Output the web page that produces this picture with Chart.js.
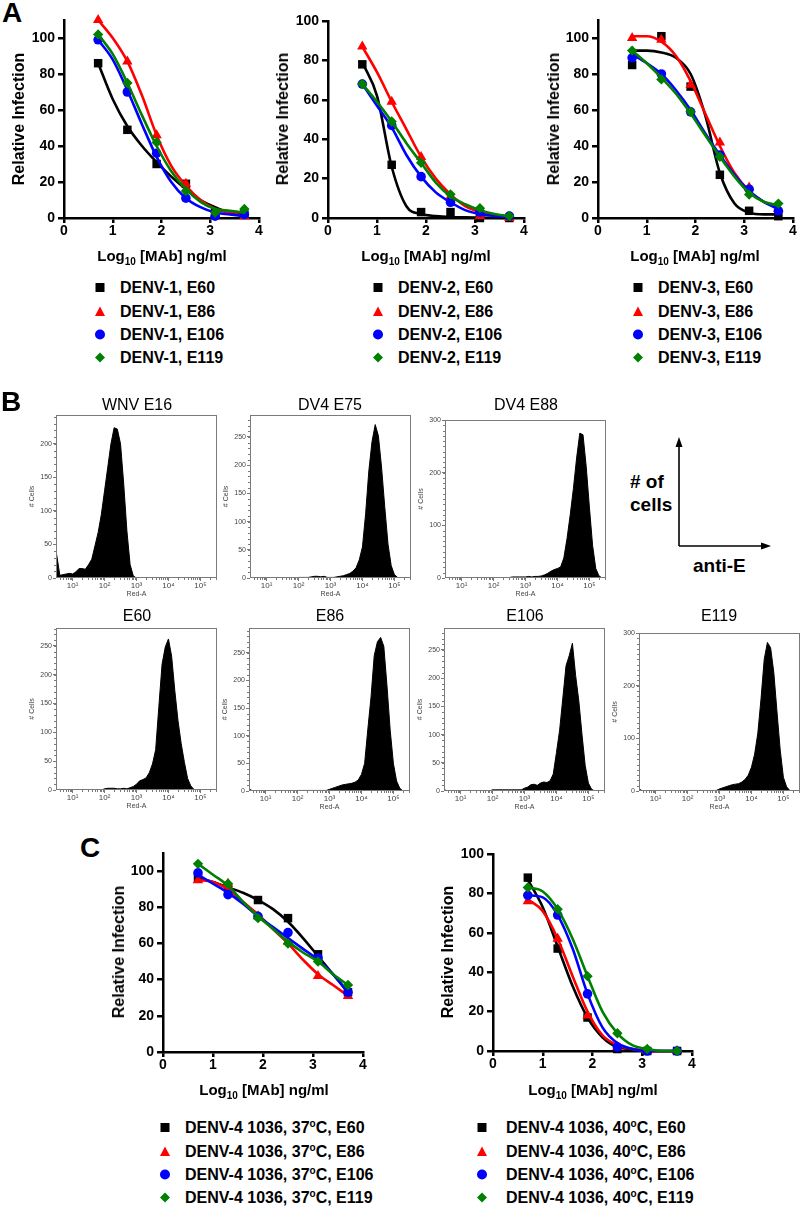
<!DOCTYPE html>
<html>
<head>
<meta charset="utf-8">
<script src="https://cdn.jsdelivr.net/npm/chart.js@4.4.0/dist/chart.umd.min.js"></script>
<style>
  body { margin: 0; width: 800px; height: 1208px; position: relative; overflow: hidden; background: #fff;
         font-family: "Liberation Sans", Arial, Helvetica, sans-serif; }
  canvas { position: absolute; }
  .lbl { position: absolute; white-space: nowrap; color: #000; line-height: 1; }
  .lbl sup { font-size: 10px; position: relative; top: -6px; vertical-align: baseline; }
  .lbl sub { font-size: 10px; position: relative; top: 4px; vertical-align: baseline; }
</style>
</head>
<body>
<script>
const FONT = '"Liberation Sans", Arial, Helvetica, sans-serif';

// --- dose response data (x = log10 ng/ml) ---
const doses = [0.7, 1.3, 1.9, 2.5, 3.1, 3.7];
const fitX = [0.7, 1.0, 1.3, 1.6, 1.9, 2.2, 2.5, 2.8, 3.1, 3.4, 3.7];
const antibodies = ["E60", "E86", "E106", "E119"];
const doseXTicks = [0, 1, 2, 3, 4];
const doseYTicks = [0, 20, 40, 60, 80, 100];

// rows follow antibodies order: E60, E86, E106, E119
const denv1Points = [
  [86, 49, 30, 19, 3, 2],
  [110, 87, 46, 19, 2, 1],
  [99, 70, 36, 11, 1, 2],
  [102, 75, 42, 15, 3, 5],
];
const denv1Fit = [
  [86, 66, 51, 40, 31, 23, 16, 10, 6, 3, 2],
  [110, 100, 87, 68, 46, 29, 18, 10, 5, 3, 1],
  [99, 88, 71, 52, 34, 20, 11, 6, 3, 2, 1],
  [102, 91, 75, 57, 40, 26, 16, 9, 5, 4, 3],
];
const denv2Points = [
  [78, 27, 3, 3, 0, 0],
  [87, 59, 31, 11, 1, 0],
  [68, 47, 21, 8, 3, 1],
  [68, 49, 28, 12, 5, 1],
];
const denv2Fit = [
  [79, 62, 26, 6, 2, 1, 0.5, 0.3, 0.2, 0.1, 0],
  [87, 74, 59, 45, 31, 20, 12, 6, 3, 1.5, 0.5],
  [68, 57, 46, 32, 21, 13, 8, 4, 2, 1, 0.5],
  [68, 59, 49, 38, 28, 18, 11, 7, 4, 2, 1],
];
const denv3Points = [
  [85, 101, 73, 24, 4, 1],
  [100, 99, 74, 42, 17, 5],
  [89, 80, 59, 35, 16, 4],
  [93, 77, 59, 34, 13, 8],
];
const denv3Fit = [
  [93, 93, 92, 89, 80, 57, 25, 8, 3, 2, 2],
  [101, 101, 98, 90, 76, 58, 40, 25, 15, 9, 6],
  [91, 86, 80, 71, 60, 47, 35, 24, 15, 9, 5],
  [93, 86, 78, 69, 58, 46, 34, 23, 14, 9, 7],
];
const denv4at37Points = [
  [96, 91, 84, 74, 54, 33],
  [95, 93, 75, 61, 42, 31],
  [99, 87, 75, 66, 52, 33],
  [104, 93, 74, 60, 50, 37],
];
const denv4at37Fit = [
  [96, 94, 91, 88, 84, 79, 72, 63, 53, 43, 33],
  [95, 94, 90, 83, 76, 68, 60, 51, 43, 37, 31],
  [98, 93, 88, 82, 75, 69, 63, 57, 51, 43, 33],
  [104, 98, 92, 83, 75, 68, 61, 55, 50, 43, 37],
];
const denv4at40Points = [
  [88, 52, 17, 1, 0, 0],
  [76, 57, 18, 2, 0, 0],
  [79, 69, 29, 2, 0, 0],
  [83, 72, 38, 9, 1, 0],
];
const denv4at40Fit = [
  [87, 73, 53, 33, 17, 7, 2, 1, 0, 0, 0],
  [77, 71, 57, 38, 20, 8, 3, 1, 0, 0, 0],
  [79, 78, 69, 52, 29, 12, 4, 1, 0, 0, 0],
  [83, 81, 72, 57, 38, 20, 9, 3, 1, 0, 0],
];

// --- flow cytometry histograms (x = log10 Red-A, y = # cells) ---
const histBins = [0.5, 0.6, 0.7, 0.8, 0.9, 1.0, 1.1, 1.2, 1.3, 1.4, 1.5, 1.6, 1.7, 1.8, 1.9, 2.0, 2.1, 2.2, 2.3, 2.4,
  2.5, 2.6, 2.7, 2.8, 2.9, 3.0, 3.1, 3.2, 3.3, 3.4, 3.5, 3.6, 3.7, 3.8, 3.9, 4.0, 4.1, 4.2, 4.3, 4.4, 4.5, 4.6, 4.7,
  4.8, 4.9, 5.0, 5.1, 5.2, 5.3, 5.4, 5.5];
const histXTicks = [1, 2, 3, 4, 5];
const histWnvE16 = [35, 4, 5, 6, 7, 6, 9, 14, 14, 13, 20, 28, 48, 68, 95, 130, 165, 200, 224, 222,
  200, 140, 70, 20, 3, 0, 0, 0, 0, 0, 0, 0, 0, 0, 0, 0, 0, 0, 0, 0, 0, 0, 0, 0, 0, 0, 0, 0, 0, 0, 0];
const histDv4E75 = [0, 0, 0, 0, 0, 0, 0, 0, 0, 0, 0, 0, 0, 0, 0, 1, 1, 1, 1, 2,
  3, 3, 2, 3, 1, 1, 1, 2, 3, 4, 6, 8, 12, 18, 32, 55, 114, 190, 242, 272, 252, 195, 125, 60, 22, 6, 1, 0, 0, 0, 0];
const histDv4E88 = [0, 0, 0, 0, 0, 0, 0, 0, 0, 0, 0, 0, 0, 0, 0, 0, 0, 0, 0, 0,
  1, 2, 2, 2, 2, 2, 3, 2, 3, 3, 4, 6, 9, 13, 16, 18, 21, 38, 75, 120, 170, 228, 275, 272, 212, 135, 62, 18, 4, 0, 0];
const histE60 = [0, 0, 0, 0, 0, 0, 0, 0, 0, 0, 0, 0, 0, 0, 0, 2, 3, 3, 3, 2,
  2, 3, 2, 4, 6, 10, 16, 18, 21, 30, 45, 70, 145, 218, 248, 262, 232, 172, 120, 80, 48, 20, 7, 1, 0, 0, 0, 0, 0, 0, 0];
const histE86 = [3, 0, 0, 0, 0, 0, 0, 0, 0, 0, 0, 0, 0, 0, 0, 1, 1, 1, 1, 1,
  1, 1, 1, 1, 1, 3, 5, 7, 9, 11, 12, 13, 14, 16, 20, 30, 50, 112, 170, 245, 270, 278, 262, 190, 110, 50, 18, 5, 0, 0, 0];
const histE106 = [2, 0, 0, 0, 0, 0, 0, 0, 0, 0, 0, 0, 0, 0, 0, 2, 2, 2, 2, 2,
  2, 2, 2, 2, 2, 5, 7, 11, 12, 10, 14, 16, 15, 18, 30, 68, 108, 165, 222, 240, 262, 205, 160, 100, 45, 14, 3, 0, 0, 0, 0];
const histE119 = [3, 0, 0, 0, 0, 0, 0, 0, 0, 0, 0, 0, 0, 0, 0, 1, 1, 1, 1, 1,
  1, 1, 1, 1, 1, 4, 6, 8, 10, 12, 13, 14, 17, 22, 30, 45, 70, 110, 175, 250, 282, 272, 225, 150, 78, 26, 8, 1, 0, 0, 0];

// --- styles ---
const seriesColors = ["#000000", "#ff0000", "#0000ff", "#008000"];
const seriesShapes = ["rect", "triangle", "circle", "rectRot"];
const seriesRadius = [6, 6, 4.8, 5.2];
const superDigits = { 1: "\u00b9", 2: "\u00b2", 3: "\u00b3", 4: "\u2074", 5: "\u2075" };

function makeCanvas(left, top, w, h) {
  const cv = document.createElement("canvas");
  cv.width = w;
  cv.height = h;
  cv.style.left = left + "px";
  cv.style.top = top + "px";
  cv.style.width = w + "px";
  cv.style.height = h + "px";
  document.body.appendChild(cv);
  return cv;
}

function label(html, x, y, css, anchor) {
  const d = document.createElement("div");
  d.className = "lbl";
  d.innerHTML = html;
  d.style.left = x + "px";
  d.style.top = y + "px";
  Object.assign(d.style, css || {});
  d.style.transform = anchor === "left" ? "translate(0,-50%)" :
    anchor === "rot" ? "translate(-50%,-50%) rotate(-90deg)" : "translate(-50%,-50%)";
  document.body.appendChild(d);
  return d;
}

function doseChart(plot, ymax, points, fits) {
  const yW = 64, xH = 30, padTop = 12, padRight = 12;
  const cv = makeCanvas(plot.left - yW, plot.top - padTop,
    plot.right - plot.left + yW + padRight, plot.bottom - plot.top + padTop + xH);
  const datasets = [];
  antibodies.forEach((ab, i) => {
    datasets.push({
      label: ab + " fit",
      data: fitX.map((x, j) => ({ x: x, y: fits[i][j] })),
      showLine: true,
      pointRadius: 0,
      borderColor: seriesColors[i],
      borderWidth: 2.6,
      cubicInterpolationMode: "monotone",
      clip: false,
      order: 10 - 2 * i,
    });
    datasets.push({
      label: ab,
      data: doses.map((x, j) => ({ x: x, y: points[i][j] })),
      showLine: false,
      pointStyle: seriesShapes[i],
      pointRadius: seriesRadius[i],
      backgroundColor: seriesColors[i],
      borderColor: seriesColors[i],
      borderWidth: 0,
      clip: false,
      order: 9 - 2 * i,
    });
  });
  const tickFont = { family: FONT, size: 14, weight: "bold" };
  new Chart(cv, {
    type: "scatter",
    data: { datasets: datasets },
    options: {
      responsive: false,
      animation: false,
      devicePixelRatio: 1,
      layout: { padding: { top: padTop, right: padRight, left: 0, bottom: 0 } },
      plugins: { legend: { display: false }, tooltip: { enabled: false } },
      scales: {
        x: {
          type: "linear", min: 0, max: 4,
          afterBuildTicks: (s) => { s.ticks = doseXTicks.map((v) => ({ value: v })); },
          afterFit: (s) => { s.height = xH; },
          ticks: { color: "#000", font: tickFont, padding: 0, maxRotation: 0, autoSkip: false },
          grid: { drawOnChartArea: false, tickLength: 5, color: "#000", lineWidth: 2.5 },
          border: { color: "#000", width: 2.5 },
        },
        y: {
          type: "linear", min: 0, max: ymax,
          afterBuildTicks: (s) => { s.ticks = doseYTicks.filter((v) => v <= ymax).map((v) => ({ value: v })); },
          afterFit: (s) => { s.width = yW; },
          ticks: { color: "#000", font: tickFont, padding: 3, autoSkip: false },
          grid: { drawOnChartArea: false, tickLength: 6, color: "#000", lineWidth: 2.5 },
          border: { color: "#000", width: 2.5 },
        },
      },
    },
  });
}

// box round the plot area plus the small minor ticks of a cytometry plot
const frame = {
  id: "frame",
  afterDraw(c) {
    const a = c.chartArea, ctx = c.ctx;
    const xs = c.scales.x, ys = c.scales.y;
    ctx.save();
    ctx.strokeStyle = "#7a7a7a";
    ctx.lineWidth = 1;
    ctx.strokeRect(a.left + 0.5, a.top + 0.5, a.right - a.left - 1, a.bottom - a.top - 1);
    ctx.beginPath();
    for (let d = 0; d <= 5; d++) {
      for (let m = 2; m <= 9; m++) {
        const v = d + Math.log10(m);
        if (v < xs.min || v > xs.max) continue;
        const px = Math.round(xs.getPixelForValue(v)) + 0.5;
        ctx.moveTo(px, a.bottom);
        ctx.lineTo(px, a.bottom + 2);
      }
    }
    for (let v = 10; v < ys.max; v += 10) {
      const py = Math.round(ys.getPixelForValue(v)) + 0.5;
      ctx.moveTo(a.left, py);
      ctx.lineTo(a.left - 2, py);
    }
    ctx.stroke();
    ctx.restore();
  },
};

function histChart(box, ymax, step, values) {
  const yW = 28, xH = 20, padTop = 6, padRight = 4;
  const cv = makeCanvas(box.left - yW, box.top - padTop,
    box.right - box.left + yW + padRight, box.bottom - box.top + padTop + xH);
  const small = { family: FONT, size: 7 };
  const tickSmall = { family: FONT, size: 8 };
  const yt = [];
  for (let v = 0; v <= ymax; v += step) yt.push(v);
  new Chart(cv, {
    type: "scatter",
    data: {
      datasets: [{
        data: histBins.map((x, i) => ({ x: x, y: values[i] })),
        showLine: true,
        fill: "origin",
        backgroundColor: "#000",
        borderColor: "#000",
        borderWidth: 1,
        pointRadius: 0,
        tension: 0,
      }],
    },
    options: {
      responsive: false,
      animation: false,
      devicePixelRatio: 1,
      layout: { padding: { top: padTop, right: padRight, left: 0, bottom: 0 } },
      plugins: { legend: { display: false }, tooltip: { enabled: false } },
      scales: {
        x: {
          type: "linear", min: 0.48, max: 5.52,
          afterBuildTicks: (s) => { s.ticks = histXTicks.map((v) => ({ value: v })); },
          afterFit: (s) => { s.height = xH; },
          ticks: { color: "#444", font: tickSmall, padding: 0, maxRotation: 0, callback: (v) => "10" + superDigits[v] },
          grid: { drawOnChartArea: false, tickLength: 3, color: "#7a7a7a" },
          border: { display: false },
          title: { display: true, text: "Red-A", color: "#444", font: small, padding: 0 },
        },
        y: {
          type: "linear", min: 0, max: ymax,
          afterBuildTicks: (s) => { s.ticks = yt.map((v) => ({ value: v })); },
          afterFit: (s) => { s.width = yW; },
          ticks: { color: "#444", font: small, padding: 1 },
          grid: { drawOnChartArea: false, tickLength: 3, color: "#7a7a7a" },
          border: { display: false },
          title: { display: true, text: "# Cells", color: "#444", font: small, padding: 0 },
        },
      },
    },
    plugins: [frame],
  });
}

function markerSvg(i) {
  const c = seriesColors[i];
  const shapes = [
    `<rect x="1" y="1" width="9" height="9" fill="${c}"/>`,
    `<polygon points="5.5,0.5 10.5,10 0.5,10" fill="${c}"/>`,
    `<circle cx="5.5" cy="5.5" r="5" fill="${c}"/>`,
    `<polygon points="5.5,0.5 10.5,5.5 5.5,10.5 0.5,5.5" fill="${c}"/>`,
  ];
  return `<svg width="11" height="11" viewBox="0 0 11 11">${shapes[i]}</svg>`;
}

function legend(markerX, textX, rows, prefix) {
  antibodies.forEach((ab, i) => {
    label(markerSvg(i), markerX, rows[i], {}, "center");
    label(prefix + ", " + ab, textX, rows[i], { font: `bold 16px ${FONT}` }, "left");
  });
}

const boldTitle = { font: `bold 15px ${FONT}` };
const yTitle = { font: `bold 16px ${FONT}` };
const xTitleHtml = "Log<sub>10</sub> [MAb] ng/ml";

// ---------- panel A ----------
label("A", 12, 13, { font: `bold 28px ${FONT}` });
doseChart({ left: 64, right: 259, top: 20, bottom: 218 }, 110, denv1Points, denv1Fit);
doseChart({ left: 328, right: 524, top: 21, bottom: 218 }, 100, denv2Points, denv2Fit);
doseChart({ left: 598, right: 793, top: 20, bottom: 218 }, 110, denv3Points, denv3Fit);
label("Relative Infection", 19, 119, yTitle, "rot");
label("Relative Infection", 283, 119, yTitle, "rot");
label("Relative Infection", 554, 119, yTitle, "rot");
label(xTitleHtml, 162, 255, boldTitle);
label(xTitleHtml, 426, 255, boldTitle);
label(xTitleHtml, 695, 255, boldTitle);
const legendRowsA = [288, 312, 335, 358];
legend(100, 120, legendRowsA, "DENV-1");
legend(378, 398, legendRowsA, "DENV-2");
legend(638, 658, legendRowsA, "DENV-3");

// ---------- panel B ----------
label("B", 11, 402, { font: `bold 28px ${FONT}` });
const histTitle = { font: `16px ${FONT}` };
histChart({ left: 56, right: 217, top: 415, bottom: 578 }, 243, 50, histWnvE16);
histChart({ left: 250, right: 411, top: 415, bottom: 578 }, 289, 50, histDv4E75);
histChart({ left: 445, right: 606, top: 420, bottom: 578 }, 300, 100, histDv4E88);
histChart({ left: 56, right: 217, top: 628, bottom: 790 }, 281, 50, histE60);
histChart({ left: 249, right: 410, top: 628, bottom: 791 }, 295, 50, histE86);
histChart({ left: 444, right: 605, top: 628, bottom: 791 }, 289, 50, histE106);
histChart({ left: 639, right: 800, top: 633, bottom: 791 }, 300, 100, histE119);
label("WNV E16", 137, 405, histTitle);
label("DV4 E75", 330, 405, histTitle);
label("DV4 E88", 526, 405, histTitle);
label("E60", 137, 616, histTitle);
label("E86", 330, 616, histTitle);
label("E106", 525, 616, histTitle);
label("E119", 719, 616, histTitle);

// axis key
const key = document.createElementNS("http://www.w3.org/2000/svg", "svg");
key.setAttribute("width", "120");
key.setAttribute("height", "130");
key.style.position = "absolute";
key.style.left = "660px";
key.style.top = "430px";
key.innerHTML =
  '<line x1="19" y1="116" x2="19" y2="16" stroke="#000" stroke-width="1.6"/>' +
  '<polygon points="19,7 15.5,17 22.5,17" fill="#000"/>' +
  '<line x1="19" y1="116" x2="102" y2="116" stroke="#000" stroke-width="1.6"/>' +
  '<polygon points="111,116 101,112.5 101,119.5" fill="#000"/>';
document.body.appendChild(key);
label("# of", 630, 482, { font: `bold 19px ${FONT}` }, "left");
label("cells", 630, 505, { font: `bold 19px ${FONT}` }, "left");
label("anti-E", 693, 566, { font: `bold 19px ${FONT}` }, "left");

// ---------- panel C ----------
label("C", 90, 848, { font: `bold 28px ${FONT}` });
doseChart({ left: 163, right: 363, top: 853, bottom: 1052 }, 110, denv4at37Points, denv4at37Fit);
doseChart({ left: 493, right: 692, top: 854, bottom: 1051 }, 100, denv4at40Points, denv4at40Fit);
label("Relative Infection", 119, 952, yTitle, "rot");
label("Relative Infection", 448, 952, yTitle, "rot");
label(xTitleHtml, 264, 1089, boldTitle);
label(xTitleHtml, 593, 1089, boldTitle);
const legendRowsC = [1128, 1152, 1175, 1198];
legend(165, 185, legendRowsC, "DENV-4 1036, 37<sup>o</sup>C");
legend(482, 506, legendRowsC, "DENV-4 1036, 40<sup>o</sup>C");
</script>
</body>
</html>
